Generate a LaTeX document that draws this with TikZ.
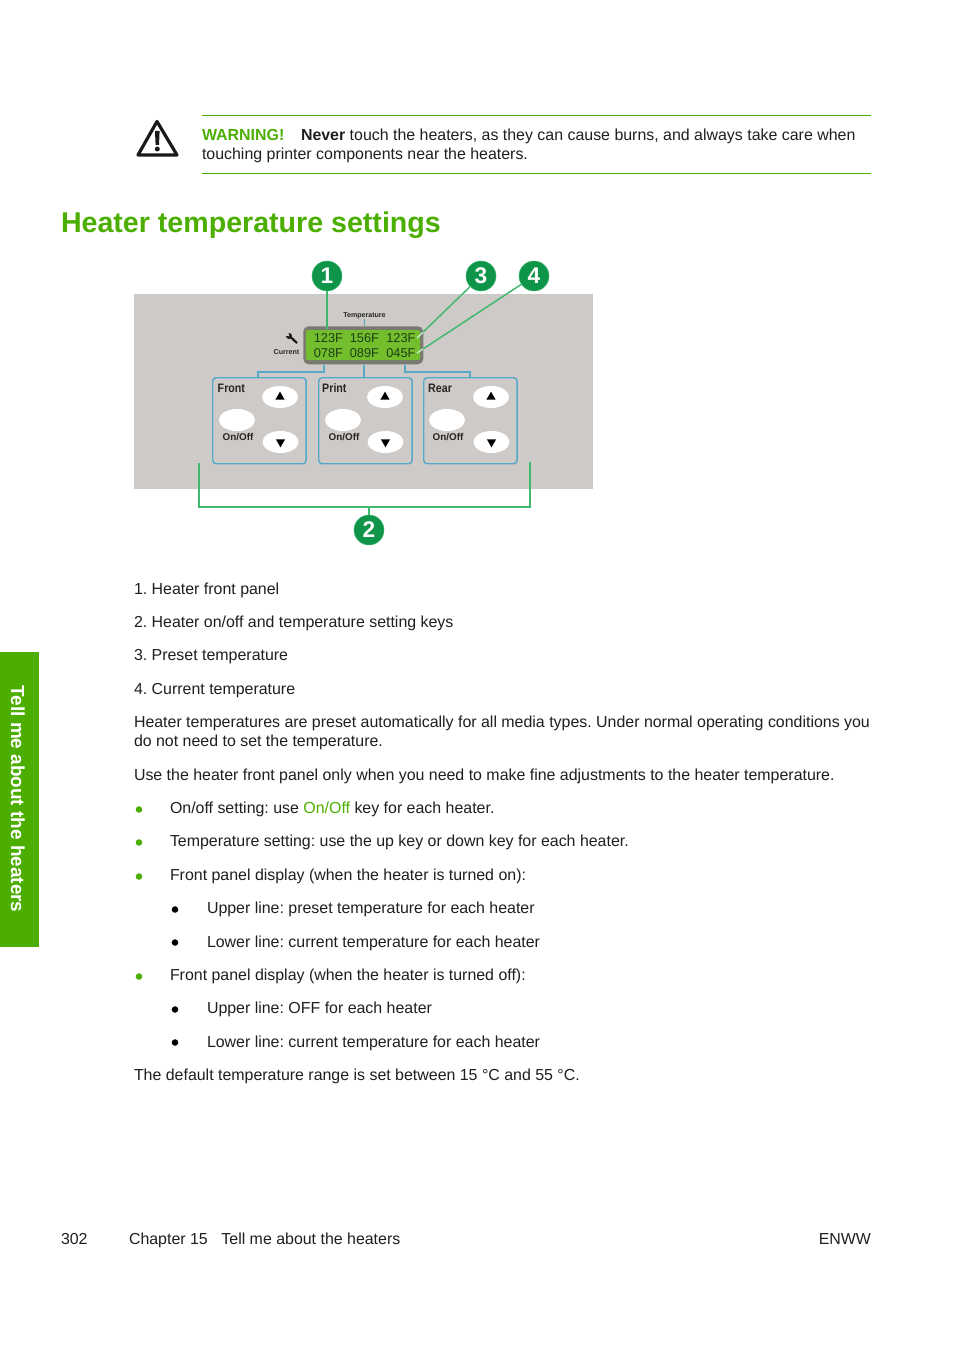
\documentclass[tikz,border=0pt]{standalone}
\usepackage{fontspec}
\setmainfont{Liberation Sans}
\frenchspacing
\definecolor{hpgreen}{HTML}{4CAE00}
\definecolor{panelgray}{HTML}{CECAC7}
\definecolor{keyblue}{HTML}{55A8C8}
\definecolor{callout}{HTML}{3FB870}
\definecolor{calloutlight}{HTML}{BCE9C4}
\definecolor{calloutfill}{HTML}{0F9549}
\definecolor{lcdgreen}{HTML}{72BE2C}
\definecolor{lcdframe}{HTML}{7A7A72}
\definecolor{lcdtext}{HTML}{1C3F12}
\newcommand{\bodyfont}{\fontsize{11.95}{14}\selectfont}
\newcommand{\lcdfont}{\fontsize{9.6}{11}\selectfont}
\newcommand{\keyfont}{\fontsize{7.4}{8}\selectfont\bfseries}
\tikzset{
  x=0.75pt,y=-0.75pt,
  txt/.style={anchor=base west,inner sep=0pt,outer sep=0pt,font=\bodyfont,text=black!88},
  rulegreen/.style={draw=hpgreen,line width=0.5pt},
  greenbullet/.style={circle,fill=hpgreen,inner sep=0pt,minimum size=4.9pt},
  blackbullet/.style={circle,fill=black,inner sep=0pt,minimum size=4.9pt},
  keybox/.style={draw=keyblue,line width=1.1pt,rounded corners=2.5pt,anchor=north west,inner sep=0pt},
  keybtn/.style={ellipse,fill=white,inner sep=0pt,minimum width=27pt,minimum height=16.5pt},
  keylabel/.style={inner sep=0pt,font=\keyfont,text=black!85},
  bigkey/.style={anchor=base west,inner sep=0pt,xscale=0.87,font=\fontsize{9.2}{10}\selectfont\bfseries,text=black!85},
  lcdtxt/.style={anchor=base west,inner sep=0pt,font=\lcdfont,text=lcdtext},
  bluelink/.style={draw=keyblue,line width=0.9pt},
  calloutline/.style={draw=callout,line width=1.1pt},
  callouttail/.style={draw=calloutlight,line width=1.1pt},
  callnum/.style={circle,fill=calloutfill,draw=callout,line width=0.4pt,minimum size=22.5pt,inner sep=0pt,
     text=white,font=\fontsize{17}{17}\selectfont\bfseries},
  tri/.style={isosceles triangle,fill=black,inner sep=0pt},
}
\usetikzlibrary{shapes.geometric}
\begin{document}
\begin{tikzpicture}
\useasboundingbox (0,0) rectangle (954,1352);
\fill[white] (0,0) rectangle (954,1352);

% warning
\draw[line width=2.4pt,line join=round,black!90] (157,121.5) -- (138,155) -- (177,155) -- cycle;
\fill[black!90] (155,131) -- (159.6,131) -- (159,145) -- (155.6,145) -- cycle;
\fill[black!90] (157.3,149) circle[radius=2.5];
\coordinate (r1a) at (202,115.5); \coordinate (r1b) at (871,115.5);
\coordinate (r2a) at (202,173.5); \coordinate (r2b) at (871,173.5);
\draw[rulegreen] (r1a) -- (r1b);
\draw[rulegreen] (r2a) -- (r2b);
\node[txt,font=\bodyfont\bfseries,text=hpgreen] (warn) at (202,140.7) {WARNING!};
\node[txt] (warn2) at (301,140.7) {\textbf{Never} touch the heaters, as they can cause burns, and always take care when};
\node[txt] (warn3) at (202,159.7) {touching printer components near the heaters.};

% title
\node[txt,font=\fontsize{21.45}{24}\selectfont\bfseries,text=hpgreen] (title) at (61,232) {Heater temperature settings};

% panel
\fill[panelgray] (134,294) rectangle (593,489);

% LCD
\node[fill=lcdframe,rounded corners=4pt,minimum width=90pt,minimum height=28.5pt,inner sep=0pt,anchor=north west] (lcd) at (303,326) {};
\fill[lcdgreen,rounded corners=1.5pt] (306,330) rectangle (420,360);
\foreach \n/\xx/\yy/\t in {a/313.5/342.5/123F,b/349.5/342.5/156F,c/386/342.5/123F,d/313.5/357.5/078F,e/349.5/357.5/089F,f/386/357.5/045F}
  \node[lcdtxt] (lcd\n) at (\xx,\yy) {\t};
\node[keylabel,font=\fontsize{5.3}{6}\selectfont\bfseries] (temp) at (364.5,315.5) {Temperature};
\node[keylabel,font=\fontsize{5.3}{6}\selectfont\bfseries] (curr) at (286.5,352) {Current};
% wrench
\draw[line width=1.7pt,black!90] (297,343) -- (290,336.5);
\fill[black!90] (289,336) circle[radius=3];
\fill[panelgray] (289.3,336.3) -- (285,335.5) -- (285,331) -- (288,331) -- cycle;

% key boxes
\foreach \n/\xx in {f/212,p/318,r/423}{
  \node[keybox,minimum width=70pt,minimum height=64.5pt] (box\n) at (\xx,377) {};
}
\node[bigkey] (lf) at (217.5,392) {Front};
\node[bigkey] (lp) at (322,392) {Print};
\node[bigkey] (lr) at (428,392) {Rear};
\foreach \n/\ux/\ox in {f/280/237,p/385/343,r/491/447}{
  \node[keybtn] (up\n) at (\ux,397) {};
  \node[keybtn] (on\n) at (\ox,420) {};
  \node[keybtn] (dn\n) at (\ux+0.5,442) {};
  \node[keylabel] (lab\n) at (\ox+1,437) {On/Off};
  \node[tri,shape border rotate=90,minimum width=6pt,minimum height=6pt,isosceles triangle apex angle=60] (ua\n) at (\ux,397) {};
  \node[tri,shape border rotate=270,minimum width=6pt,minimum height=6pt,isosceles triangle apex angle=60] (da\n) at (\ux+0.5,442) {};
}
% blue links
\draw[bluelink] (324,365) -- (324,372) -- (258,372) -- (258,377);
\draw[bluelink] (364,365) -- (364,377);
\draw[bluelink] (405,365) -- (405,372) -- (470,372) -- (470,377);
\draw[bluelink] (364.5,319) -- (364.5,326);

% callouts
\coordinate (e1) at (327,329);
\coordinate (m3) at (423,332.2);
\coordinate (e3) at (417,338);
\coordinate (m4) at (423,349);
\coordinate (e4) at (417,353);
\coordinate (bl) at (199,463);
\coordinate (bm) at (369,507);
\coordinate (br) at (530,462);
\node[callnum] (c1) at (327,276) {1};
\node[callnum] (c3) at (481,276) {3};
\node[callnum] (c4) at (534,276) {4};
\node[callnum] (c2) at (369,530) {2};
\draw[calloutline] (c1) -- (e1);
\draw[calloutline] (c3) -- (m3);
\draw[callouttail] (m3) -- (e3);
\draw[calloutline] (c4) -- (m4);
\draw[callouttail] (m4) -- (e4);
\draw[calloutline] (bl) |- (bm) -| (br);
\draw[calloutline] (bm) -- (c2);

% side tab
\fill[hpgreen] (0,652) rectangle (39,947);
\node[inner sep=0pt,rotate=-90,font=\fontsize{14.2}{16}\selectfont\bfseries,text=white] (side) at (18,799) {Tell me about the heaters};

% body
\node[txt] (l1) at (134,594) {1. Heater front panel};
\node[txt] (l2) at (134,627) {2. Heater on/off and temperature setting keys};
\node[txt] (l3) at (134,660) {3. Preset temperature};
\node[txt] (l4) at (134,694) {4. Current temperature};
\node[txt] (p1) at (134,727) {Heater temperatures are preset automatically for all media types. Under normal operating conditions you};
\node[txt] (p1b) at (134,746) {do not need to set the temperature.};
\node[txt] (p2) at (134,780) {Use the heater front panel only when you need to make fine adjustments to the heater temperature.};
\node[greenbullet] (b1) at (139,809.5) {};
\node[txt] (t1) at (170,813) {On/off setting: use \textcolor{hpgreen}{On/Off} key for each heater.};
\node[greenbullet] (b2) at (139,842.5) {};
\node[txt] (t2) at (170,846) {Temperature setting: use the up key or down key for each heater.};
\node[greenbullet] (b3) at (139,876.5) {};
\node[txt] (t3) at (170,880) {Front panel display (when the heater is turned on):};
\node[blackbullet] (b4) at (175,909.5) {};
\node[txt] (t4) at (207,913) {Upper line: preset temperature for each heater};
\node[blackbullet] (b5) at (175,942.5) {};
\node[txt] (t5) at (207,947) {Lower line: current temperature for each heater};
\node[greenbullet] (b6) at (139,976.5) {};
\node[txt] (t6) at (170,980) {Front panel display (when the heater is turned off):};
\node[blackbullet] (b7) at (175,1009.5) {};
\node[txt] (t7) at (207,1013) {Upper line: OFF for each heater};
\node[blackbullet] (b8) at (175,1042.5) {};
\node[txt] (t8) at (207,1047) {Lower line: current temperature for each heater};
\node[txt] (p3) at (134,1080) {The default temperature range is set between 15 °C and 55 °C.};

% footer
\node[txt] (f1) at (61,1244) {302};
\node[txt] (f2) at (129,1244) {Chapter 15\hspace{10.2pt}Tell me about the heaters};
\node[txt,anchor=base east] (f3) at (871,1244) {ENWW};
\end{tikzpicture}
\end{document}
